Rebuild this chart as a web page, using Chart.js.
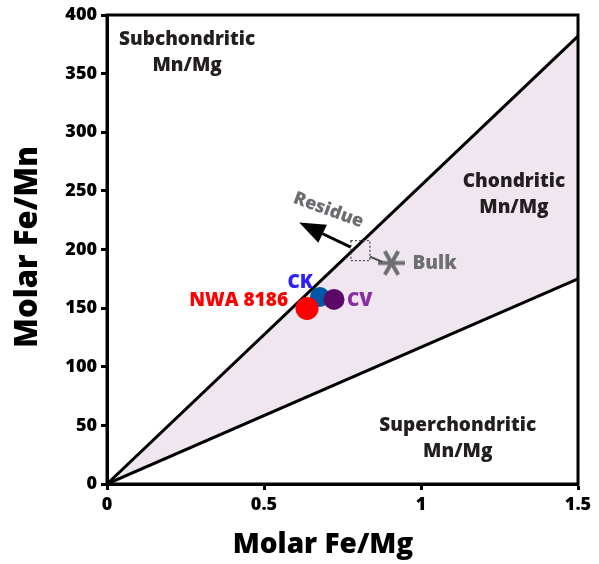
<!DOCTYPE html>
<html>
<head>
<meta charset="utf-8">
<script src="https://cdn.jsdelivr.net/npm/chart.js@4.4.1/dist/chart.umd.min.js"></script>
<style>
  html, body { margin: 0; padding: 0; background: #fff; }
  #wrap { width: 599px; height: 564px; }
</style>
</head>
<body>
<div id="wrap"><canvas id="chart"></canvas></div>
<script>
// Chondritic band boundaries (Fe/Mn at the right edge Fe/Mg = 1.5)
const boundaryX = [0, 1.5];
const upperY = [0, 382];
const lowerY = [0, 175];

// Meteorite points
const sampleNames = ["CK", "CV", "NWA 8186"];
const sampleX = [0.678, 0.723, 0.637];
const sampleY = [159.5, 157.4, 149.7];
const sampleRadius = [10, 10.5, 11.5];
const sampleColors = ["#0057a8", "#5a0a66", "#ff0000"];
const sampleLabelColors = ["#2b1fff", "#8a2ea6", "#ff0000"];

// Bulk and residue
const bulkX = 0.906;
const bulkY = 188.5;
const residueBox = [0.807, 199];
const residueArrowFrom = [0.776, 202];
const residueArrowTo = [0.612, 223];

// Tick labels
const xTicks = [0, 0.5, 1, 1.5];
const yTicks = [0, 50, 100, 150, 200, 250, 300, 350, 400];

const FONT = "'Open Sans', 'DejaVu Sans', sans-serif";

// Region labels
const regionLabels = [
    { lines: ["Subchondritic", "Mn/Mg"], x: 0.255, y: 379 },
    { lines: ["Chondritic", "Mn/Mg"], x: 1.296, y: 258 },
    { lines: ["Superchondritic", "Mn/Mg"], x: 1.117, y: 50 }
];

// six-ray asterisk used as the Bulk marker
function asterisk(r, color, w) {
    const c = document.createElement("canvas");
    const s = Math.ceil(2 * r + w + 2);
    c.width = s; c.height = s;
    const g = c.getContext("2d");
    g.strokeStyle = color;
    g.lineWidth = w;
    for (let k = 0; k < 3; k++) {
        const a = k * Math.PI / 3;
        g.beginPath();
        g.moveTo(s / 2 - r * Math.cos(a), s / 2 - r * Math.sin(a));
        g.lineTo(s / 2 + r * Math.cos(a), s / 2 + r * Math.sin(a));
        g.stroke();
    }
    return c;
}

const annotations = {
    id: "annotations",
    afterDatasetsDraw(chart) {
        const ctx = chart.ctx;
        const xs = chart.scales.x, ys = chart.scales.y;
        const ca = chart.chartArea;
        ctx.save();

        // box on top and right
        ctx.strokeStyle = "#000";
        ctx.lineWidth = 3;
        ctx.strokeRect(ca.left, ca.top, ca.right - ca.left, ca.bottom - ca.top);

        // axis titles
        ctx.fillStyle = "#000";
        ctx.textAlign = "center";
        ctx.textBaseline = "alphabetic";
        ctx.font = "800 28px " + FONT;
        ctx.fillText("Molar Fe/Mg", 323, 553);
        ctx.save();
        ctx.translate(37, 247);
        ctx.rotate(-Math.PI / 2);
        ctx.font = "800 31px " + FONT;
        ctx.fillText("Molar Fe/Mn", 0, 0);
        ctx.restore();

        // region labels
        ctx.fillStyle = "#231f20";
        ctx.font = "800 19px " + FONT;
        ctx.textAlign = "center";
        ctx.textBaseline = "middle";
        regionLabels.forEach(r => {
            const px = xs.getPixelForValue(r.x), py = ys.getPixelForValue(r.y);
            r.lines.forEach((t, i) => ctx.fillText(t, px, py + i * 26));
        });

        // sample labels
        ctx.font = "800 19px " + FONT;
        const p = i => [xs.getPixelForValue(sampleX[i]), ys.getPixelForValue(sampleY[i])];
        let [cx, cy] = p(0);
        ctx.fillStyle = sampleLabelColors[0];
        ctx.textAlign = "right";
        ctx.fillText(sampleNames[0], cx - 7, cy - 14);
        [cx, cy] = p(1);
        ctx.fillStyle = sampleLabelColors[1];
        ctx.textAlign = "left";
        ctx.fillText(sampleNames[1], cx + 13, cy + 1);
        [cx, cy] = p(2);
        ctx.fillStyle = sampleLabelColors[2];
        ctx.textAlign = "right";
        ctx.fillText(sampleNames[2], cx - 19, cy - 8);

        // bulk label
        const bx = xs.getPixelForValue(bulkX), by = ys.getPixelForValue(bulkY);
        ctx.fillStyle = "#6d6e71";
        ctx.textAlign = "left";
        ctx.fillText("Bulk", bx + 21, by + 1);

        // dashed residue box
        const sx = xs.getPixelForValue(residueBox[0]), sy = ys.getPixelForValue(residueBox[1]);
        ctx.strokeStyle = "#4d4d4f";
        ctx.lineWidth = 1.3;
        ctx.setLineDash([2, 2]);
        ctx.strokeRect(sx - 9.5, sy - 10, 19, 20);
        ctx.setLineDash([]);
        // connector to bulk
        ctx.lineWidth = 2;
        ctx.beginPath();
        ctx.moveTo(sx + 9.5, sy + 6);
        ctx.lineTo(bx - 9, by - 1);
        ctx.stroke();

        // residue arrow
        const ax0 = xs.getPixelForValue(residueArrowFrom[0]), ay0 = ys.getPixelForValue(residueArrowFrom[1]);
        const ax1 = xs.getPixelForValue(residueArrowTo[0]), ay1 = ys.getPixelForValue(residueArrowTo[1]);
        const ang = Math.atan2(ay1 - ay0, ax1 - ax0);
        const headLen = 26, headW = 10;
        const hx = ax1 - headLen * Math.cos(ang), hy = ay1 - headLen * Math.sin(ang);
        ctx.strokeStyle = "#000";
        ctx.lineWidth = 3;
        ctx.beginPath();
        ctx.moveTo(ax0, ay0);
        ctx.lineTo(hx, hy);
        ctx.stroke();
        ctx.fillStyle = "#000";
        ctx.beginPath();
        ctx.moveTo(ax1, ay1);
        ctx.lineTo(hx + headW * Math.sin(ang), hy - headW * Math.cos(ang));
        ctx.lineTo(hx - headW * Math.sin(ang), hy + headW * Math.cos(ang));
        ctx.closePath();
        ctx.fill();

        // residue label
        ctx.save();
        ctx.translate(xs.getPixelForValue(0.705), ys.getPixelForValue(233.5));
        ctx.rotate(20 * Math.PI / 180);
        ctx.fillStyle = "#6d6e71";
        ctx.textAlign = "center";
        ctx.font = "800 18px " + FONT;
        ctx.fillText("Residue", 0, 0);
        ctx.restore();

        ctx.restore();
    }
};

new Chart(document.getElementById("chart"), {
    type: "scatter",
    data: {
        datasets: [
            {
                label: "upper",
                data: boundaryX.map((x, i) => ({ x: x, y: upperY[i] })),
                showLine: true,
                borderColor: "#000",
                borderWidth: 3,
                pointRadius: 0,
                fill: "+1",
                backgroundColor: "#f0e6ef",
                order: 10
            },
            {
                label: "lower",
                data: boundaryX.map((x, i) => ({ x: x, y: lowerY[i] })),
                showLine: true,
                borderColor: "#000",
                borderWidth: 3,
                pointRadius: 0,
                fill: false,
                order: 9
            },
            {
                label: "Bulk",
                data: [{ x: bulkX, y: bulkY }],
                pointStyle: asterisk(13.5, "#6d6e71", 4),
                pointRadius: 14,
                order: 5
            },
            ...sampleNames.map((n, i) => ({
                label: n,
                data: [{ x: sampleX[i], y: sampleY[i] }],
                pointRadius: sampleRadius[i],
                backgroundColor: sampleColors[i],
                borderColor: sampleColors[i],
                borderWidth: 0,
                order: 3 - i
            }))
        ]
    },
    options: {
        responsive: true,
        maintainAspectRatio: false,
        animation: false,
        layout: { padding: { top: 15, right: 21, left: 0, bottom: 0 } },
        plugins: { legend: { display: false }, tooltip: { enabled: false } },
        scales: {
            x: {
                type: "linear",
                min: 0,
                max: 1.5,
                afterBuildTicks: s => { s.ticks = xTicks.map(v => ({ value: v })); },
                afterFit: s => { s.height = 80; },
                ticks: {
                    color: "#000",
                    font: { family: FONT, size: 18, weight: "800" },
                    padding: 4,
                    maxRotation: 0,
                    callback: v => String(v)
                },
                grid: { drawOnChartArea: false, tickLength: 6, tickColor: "#000", tickWidth: 3 },
                border: { color: "#000", width: 3 }
            },
            y: {
                type: "linear",
                min: 0,
                max: 400,
                afterBuildTicks: s => { s.ticks = yTicks.map(v => ({ value: v })); },
                afterFit: s => { s.width = 107; },
                ticks: {
                    color: "#000",
                    font: { family: FONT, size: 18, weight: "800" },
                    padding: 4
                },
                grid: { drawOnChartArea: false, tickLength: 6, tickColor: "#000", tickWidth: 3 },
                border: { color: "#000", width: 3 }
            }
        }
    },
    plugins: [annotations]
});
</script>
</body>
</html>
